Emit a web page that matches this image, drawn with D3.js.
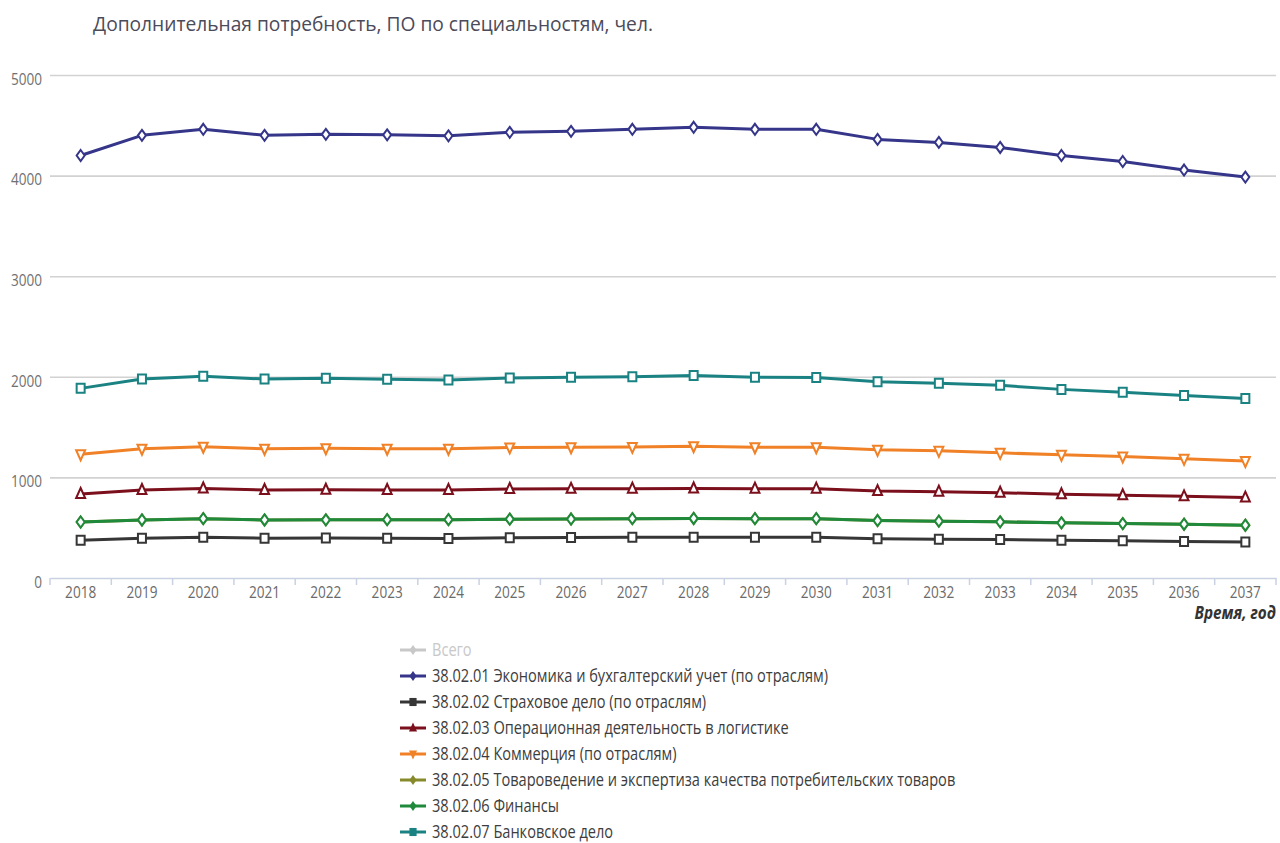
<!DOCTYPE html>
<html>
<head>
<meta charset="utf-8">
<script src="https://cdn.jsdelivr.net/npm/d3@7"></script>
<style>
  body { margin: 0; background: #fff; }
  svg text { font-family: "Open Sans", sans-serif; }
</style>
</head>
<body>
<div id="chart"></div>
<script>
// --- data ---
const years = ["2018","2019","2020","2021","2022","2023","2024","2025","2026","2027",
               "2028","2029","2030","2031","2032","2033","2034","2035","2036","2037"];
const yTicks = [0, 1000, 2000, 3000, 4000, 5000];

const econ     = [4200, 4400, 4460, 4400, 4410, 4405, 4395, 4430, 4440, 4460, 4480, 4460, 4460, 4360, 4330, 4280, 4200, 4140, 4055, 3985];
const strah    = [375, 395, 405, 395, 398, 395, 392, 400, 402, 405, 405, 405, 405, 390, 386, 382, 376, 370, 363, 357];
const logist   = [835, 875, 890, 875, 877, 875, 875, 885, 886, 888, 890, 888, 888, 864, 858, 848, 832, 822, 812, 799];
const commerce = [1230, 1285, 1305, 1285, 1290, 1285, 1285, 1298, 1300, 1303, 1310, 1300, 1300, 1274, 1264, 1244, 1224, 1208, 1185, 1162];
const tovar    = [557, 577, 590, 577, 578, 580, 580, 585, 586, 590, 592, 590, 590, 571, 565, 558, 548, 541, 535, 525];
const finance  = [557, 577, 590, 577, 578, 580, 580, 585, 586, 590, 592, 590, 590, 571, 565, 558, 548, 541, 535, 525];
const bank     = [1885, 1978, 2005, 1978, 1985, 1975, 1968, 1988, 1995, 2000, 2012, 1995, 1993, 1950, 1935, 1915, 1875, 1847, 1815, 1785];

const seriesNames = [
  "Всего",
  "38.02.01 Экономика и бухгалтерский учет (по отраслям)",
  "38.02.02 Страховое дело (по отраслям)",
  "38.02.03 Операционная деятельность в логистике",
  "38.02.04 Коммерция (по отраслям)",
  "38.02.05 Товароведение и экспертиза качества потребительских товаров",
  "38.02.06 Финансы",
  "38.02.07 Банковское дело"
];
const seriesValues = [null, econ, strah, logist, commerce, tovar, finance, bank];
const seriesColors = ["#c8c8c8", "#35358a", "#363636", "#7b0f1c", "#f08127", "#868a2a", "#1f8a3b", "#1a8282"];
const seriesShapes = ["diamond", "diamond", "square", "up", "down", "diamond", "diamond", "square"];

// --- layout ---
const W = 1280, H = 843;
const sx = 0.8; // tick text in the reference is horizontally narrow
const svg = d3.select("#chart").append("svg").attr("width", W).attr("height", H);

const x = d3.scaleBand().domain(years).range([50, 1276]);
const y = d3.scaleLinear().domain([0, 5000]).range([578, 75]);

function shapePath(s, k) {
  k = k || 1;
  if (s === "diamond") return `M0,${-5.5*k}L${4*k},0L0,${5.5*k}L${-4*k},0Z`;
  if (s === "square") return `M${-4*k},${-4.5*k}H${4*k}V${4.5*k}H${-4*k}Z`;
  if (s === "up") return `M0,${-6*k}L${4.5*k},${4*k}L${-4.5*k},${4*k}Z`;
  return `M0,${6*k}L${4.5*k},${-4*k}L${-4.5*k},${-4*k}Z`;
}

// title
svg.append("text")
  .attr("transform", "translate(93,31) scale(0.96,1)")
  .attr("font-size", 20)
  .attr("fill", "#4b4b5a")
  .text("Дополнительная потребность, ПО по специальностям, чел.");

// y grid + labels
const yAxis = svg.append("g")
  .attr("transform", "translate(50,0)")
  .call(d3.axisLeft(y).tickValues(yTicks).tickSize(-1226).tickFormat(d3.format("d")));
yAxis.select(".domain").remove();
yAxis.selectAll(".tick line")
  .attr("stroke", d => d === 0 ? "none" : "#d2d2d2")
  .attr("stroke-width", 1.6);
yAxis.selectAll(".tick text")
  .attr("x", -10)
  .attr("dy", "0.55em")
  .attr("transform", "scale(" + sx + ",1)")
  .attr("font-size", 17)
  .attr("fill", "#707070");

// x axis
const xAxis = svg.append("g")
  .attr("transform", "translate(0,578)")
  .call(d3.axisBottom(x).tickSize(0).tickPadding(8));
xAxis.select(".domain").attr("stroke", "#c9d2e3").attr("stroke-width", 1.5);
xAxis.selectAll(".tick text")
  .attr("transform", "scale(" + sx + ",1)")
  .attr("font-size", 17)
  .attr("fill", "#6a6a6a");
xAxis.selectAll("line.bnd")
  .data(years.concat(["end"]))
  .join("line")
  .attr("class", "bnd")
  .attr("x1", (d, i) => i < years.length ? x(d) : x.range()[1])
  .attr("x2", (d, i) => i < years.length ? x(d) : x.range()[1])
  .attr("y1", 0).attr("y2", 7)
  .attr("stroke", "#c9d2e3").attr("stroke-width", 1.5);

svg.append("text")
  .attr("transform", "translate(1276,619) scale(0.9,1)")
  .attr("text-anchor", "end")
  .attr("font-size", 17)
  .attr("font-weight", "bold")
  .attr("font-style", "italic")
  .attr("fill", "#333")
  .text("Время, год");

// lines + markers
const cx = d => x(d) + x.bandwidth() / 2;
const line = d3.line().x((d, i) => cx(years[i])).y(d => y(d));

seriesValues.forEach((vals, s) => {
  if (!vals) return; // "Всего" is switched off in the legend
  const g = svg.append("g");
  g.append("path")
    .datum(vals)
    .attr("d", line)
    .attr("fill", "none")
    .attr("stroke", seriesColors[s])
    .attr("stroke-width", 3)
    .attr("stroke-linejoin", "round");
  g.selectAll("path.mk")
    .data(vals)
    .join("path")
    .attr("class", "mk")
    .attr("transform", (d, i) => `translate(${cx(years[i])},${y(d)})`)
    .attr("d", shapePath(seriesShapes[s]))
    .attr("fill", "#fff")
    .attr("stroke", seriesColors[s])
    .attr("stroke-width", 2);
});

// legend
const leg = svg.append("g").selectAll("g")
  .data(seriesNames)
  .join("g")
  .attr("transform", (d, i) => `translate(400,${650 + i * 26})`);
leg.append("line")
  .attr("x1", 0).attr("x2", 26)
  .attr("stroke", (d, i) => seriesColors[i])
  .attr("stroke-width", 3);
leg.append("path")
  .attr("transform", "translate(13,0)")
  .attr("d", (d, i) => shapePath(seriesShapes[i], 0.9))
  .attr("fill", (d, i) => seriesColors[i]);
leg.append("text")
  .attr("transform", "translate(32,6) scale(0.81,1)")
  .attr("font-size", 18)
  .attr("fill", (d, i) => i === 0 ? "#c8c8c8" : "#3d3d3d")
  .text(d => d);
</script>
</body>
</html>
